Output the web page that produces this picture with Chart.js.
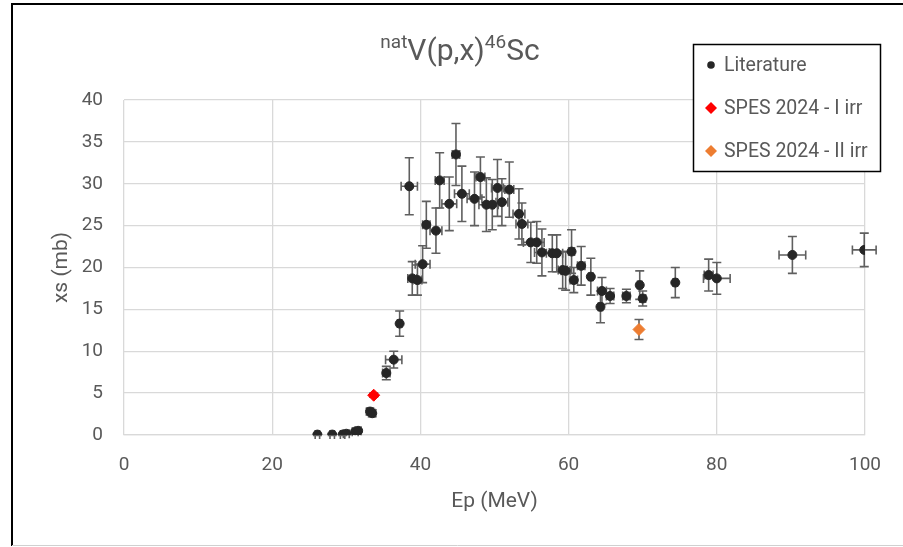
<!DOCTYPE html>
<html>
<head>
<meta charset="utf-8">
<script src="https://cdn.jsdelivr.net/npm/chart.js@4/dist/chart.umd.min.js"></script>
<style>
  html, body { margin: 0; padding: 0; background: #fff; }
  #wrap { position: relative; width: 903px; height: 547px; }
</style>
</head>
<body>
<div id="wrap"><canvas id="xs-chart" width="903" height="547"></canvas></div>
<script>
// Literature data: proton energy (MeV), cross section (mb) and uncertainties
const litEnergy = [26.1, 28.1, 29.5, 30.0, 31.2, 31.6, 33.2, 33.5, 35.4, 36.4,
    37.2, 38.5, 38.9, 39.6, 40.3, 40.8, 42.1, 42.6, 43.9, 44.8,
    45.6, 47.3, 48.1, 48.9, 49.7, 50.4, 51.0, 52.0, 53.3, 53.7,
    54.9, 55.7, 56.4, 57.8, 58.4, 59.2, 59.6, 60.4, 60.7, 61.7,
    63.0, 64.3, 64.5, 65.6, 67.8, 69.6, 70.0, 74.4, 78.9, 80.0,
    90.2, 99.9];
const litXs = [0.05, 0.05, 0.05, 0.15, 0.4, 0.5, 2.8, 2.6, 7.4, 9.0,
    13.3, 29.7, 18.7, 18.5, 20.4, 25.1, 24.4, 30.4, 27.6, 33.5,
    28.8, 28.2, 30.8, 27.5, 27.5, 29.5, 27.8, 29.3, 26.4, 25.2,
    23.0, 23.0, 21.8, 21.7, 21.7, 19.7, 19.6, 21.9, 18.5, 20.2,
    18.9, 15.3, 17.2, 16.6, 16.6, 17.9, 16.3, 18.2, 19.1, 18.7,
    21.5, 22.1];
const litXsErr = [0.1, 0.1, 0.1, 0.1, 0.15, 0.15, 0.4, 0.4, 0.8, 1.0,
    1.5, 3.4, 2.0, 1.8, 2.2, 2.8, 2.7, 3.3, 3.2, 3.7,
    3.3, 3.2, 2.4, 3.2, 3.0, 3.4, 2.8, 3.3, 3.0, 2.5,
    2.4, 2.5, 2.8, 2.2, 2.2, 2.2, 2.3, 2.6, 1.5, 2.3,
    2.2, 1.9, 1.6, 0.9, 0.8, 1.7, 0.9, 1.8, 1.9, 1.9,
    2.2, 2.0];
const litEnergyErr = [0.3, 0.3, 0.3, 0.4, 0.4, 0.4, 0.4, 0.4, 0.5, 1.1,
    0.3, 1.1, 0.6, 0.6, 1.0, 0.5, 0.8, 0.6, 1.0, 0.5,
    1.0, 1.0, 0.6, 1.0, 0.8, 0.8, 0.8, 0.6, 0.8, 0.8,
    1.0, 1.0, 1.0, 0.8, 0.8, 0.6, 0.6, 0.4, 0.5, 0.5,
    0.3, 0.3, 0.6, 0.5, 0.5, 0.3, 0.4, 0.3, 0.6, 1.8,
    1.8, 1.6];

// SPES 2024 measurements
const irr1Energy = [33.7];
const irr1Xs = [4.75];
const irr1XsErr = [0.25];
const irr2Energy = [69.5];
const irr2Xs = [12.6];
const irr2XsErr = [1.2];

const seriesLabels = ["Literature", "SPES 2024 - I irr", "SPES 2024 - II irr"];
const titleParts = [["nat", true], ["V(p,x)", false], ["46", true], ["Sc", false]];
const xAxisTitle = "Ep (MeV)";
const yAxisTitle = "xs (mb)";

const textGrey = "#595959";
const axisFont = "Roboto, 'Open Sans', sans-serif";

function toPoints(xs, ys) {
    return xs.map((x, i) => ({ x: x, y: ys[i] }));
}

// draws x / y error bars for every dataset using the chart scales
const errorBars = {
    id: "errorBars",
    beforeDatasetsDraw(chart) {
        const ctx = chart.ctx;
        const xs = chart.scales.x, ys = chart.scales.y;
        ctx.save();
        ctx.strokeStyle = "#5f5f5f";
        ctx.lineWidth = 1.6;
        chart.data.datasets.forEach(ds => {
            ds.data.forEach((p, i) => {
                const px = xs.getPixelForValue(p.x);
                const py = ys.getPixelForValue(p.y);
                const ye = ds.yErr ? ds.yErr[i] : 0;
                const xe = ds.xErr ? ds.xErr[i] : 0;
                ctx.beginPath();
                if (ye) {
                    const top = ys.getPixelForValue(p.y + ye);
                    const bot = ys.getPixelForValue(p.y - ye);
                    ctx.moveTo(px, top); ctx.lineTo(px, bot);
                    ctx.moveTo(px - 4.5, top); ctx.lineTo(px + 4.5, top);
                    ctx.moveTo(px - 4.5, bot); ctx.lineTo(px + 4.5, bot);
                }
                if (xe) {
                    const l = xs.getPixelForValue(p.x - xe);
                    const r = xs.getPixelForValue(p.x + xe);
                    ctx.moveTo(l, py); ctx.lineTo(r, py);
                    ctx.moveTo(l, py - 4.5); ctx.lineTo(l, py + 4.5);
                    ctx.moveTo(r, py - 4.5); ctx.lineTo(r, py + 4.5);
                }
                ctx.stroke();
            });
        });
        ctx.restore();
    }
};

// frame, title with superscripts and the boxed legend
const decorations = {
    id: "decorations",
    beforeDraw(chart) {
        const ctx = chart.ctx;
        ctx.save();
        ctx.fillStyle = "#fff";
        ctx.fillRect(0, 0, chart.width, chart.height);
        ctx.strokeStyle = "#000";
        ctx.lineWidth = 2;
        ctx.beginPath();
        ctx.moveTo(12, 546); ctx.lineTo(12, 4); ctx.lineTo(903, 4);
        ctx.stroke();
        ctx.strokeStyle = "#d0d0d0";
        ctx.lineWidth = 1;
        ctx.beginPath();
        ctx.moveTo(12, 545.5); ctx.lineTo(903, 545.5);
        ctx.stroke();
        ctx.restore();
    },
    afterDraw(chart) {
        const ctx = chart.ctx;
        ctx.save();
        // title
        const bigFont = "30px " + axisFont;
        const supFont = "19px " + axisFont;
        let total = 0;
        titleParts.forEach(([t, sup]) => {
            ctx.font = sup ? supFont : bigFont;
            total += ctx.measureText(t).width;
        });
        let x = 460 - total / 2;
        ctx.fillStyle = textGrey;
        ctx.textBaseline = "alphabetic";
        ctx.textAlign = "left";
        titleParts.forEach(([t, sup]) => {
            ctx.font = sup ? supFont : bigFont;
            ctx.fillText(t, x, sup ? 48 : 60);
            x += ctx.measureText(t).width;
        });

        // legend
        ctx.fillStyle = "#fff";
        ctx.fillRect(693, 44, 187, 127);
        ctx.strokeStyle = "#000";
        ctx.lineWidth = 1.5;
        ctx.strokeRect(693.5, 44.5, 187, 127);
        const rows = [65, 108, 151];
        chart.data.datasets.forEach((ds, i) => {
            const cy = rows[i];
            ctx.fillStyle = ds.backgroundColor;
            ctx.beginPath();
            if (ds.pointStyle === "rectRot") {
                ctx.moveTo(711, cy - 6); ctx.lineTo(717, cy);
                ctx.lineTo(711, cy + 6); ctx.lineTo(705, cy);
                ctx.closePath();
            } else {
                ctx.arc(711, cy, 3.8, 0, Math.PI * 2);
            }
            ctx.fill();
            ctx.fillStyle = textGrey;
            ctx.font = "19.5px " + axisFont;
            ctx.textBaseline = "middle";
            ctx.fillText(ds.label, 724, cy + 1);
        });
        ctx.restore();
    }
};

const chartCtx = document.getElementById("xs-chart").getContext("2d");
new Chart(chartCtx, {
    type: "scatter",
    data: {
        datasets: [
            {
                label: seriesLabels[0],
                data: toPoints(litEnergy, litXs),
                yErr: litXsErr,
                xErr: litEnergyErr,
                backgroundColor: "#262626",
                borderColor: "#262626",
                pointRadius: 4.5,
                pointStyle: "circle"
            },
            {
                label: seriesLabels[1],
                data: toPoints(irr1Energy, irr1Xs),
                yErr: irr1XsErr,
                backgroundColor: "#ff0000",
                borderColor: "#ff0000",
                pointRadius: 6,
                pointStyle: "rectRot"
            },
            {
                label: seriesLabels[2],
                data: toPoints(irr2Energy, irr2Xs),
                yErr: irr2XsErr,
                backgroundColor: "#ed7d31",
                borderColor: "#ed7d31",
                pointRadius: 6,
                pointStyle: "rectRot"
            }
        ]
    },
    options: {
        responsive: false,
        animation: false,
        layout: { padding: { left: 12, right: 38, top: 100, bottom: 12 } },
        plugins: {
            legend: { display: false },
            tooltip: { enabled: false }
        },
        scales: {
            x: {
                type: "linear",
                min: 0,
                max: 100,
                afterFit: s => { s.height = 100; },
                ticks: { stepSize: 20, padding: 19, color: textGrey, font: { family: axisFont, size: 19 } },
                grid: { color: "#d9d9d9", lineWidth: 1.3, drawTicks: false },
                border: { color: "#d9d9d9", width: 1.3 },
                title: { display: true, text: xAxisTitle, color: textGrey, padding: 21, font: { family: axisFont, size: 21 } }
            },
            y: {
                type: "linear",
                min: 0,
                max: 40,
                afterFit: s => { s.width = 112; },
                ticks: { stepSize: 5, padding: 21, color: textGrey, font: { family: axisFont, size: 19 } },
                grid: { color: "#d9d9d9", lineWidth: 1.3, drawTicks: false },
                border: { display: false },
                title: { display: true, text: yAxisTitle, color: textGrey, padding: 37, font: { family: axisFont, size: 21 } }
            }
        }
    },
    plugins: [errorBars, decorations]
});
</script>
</body>
</html>
